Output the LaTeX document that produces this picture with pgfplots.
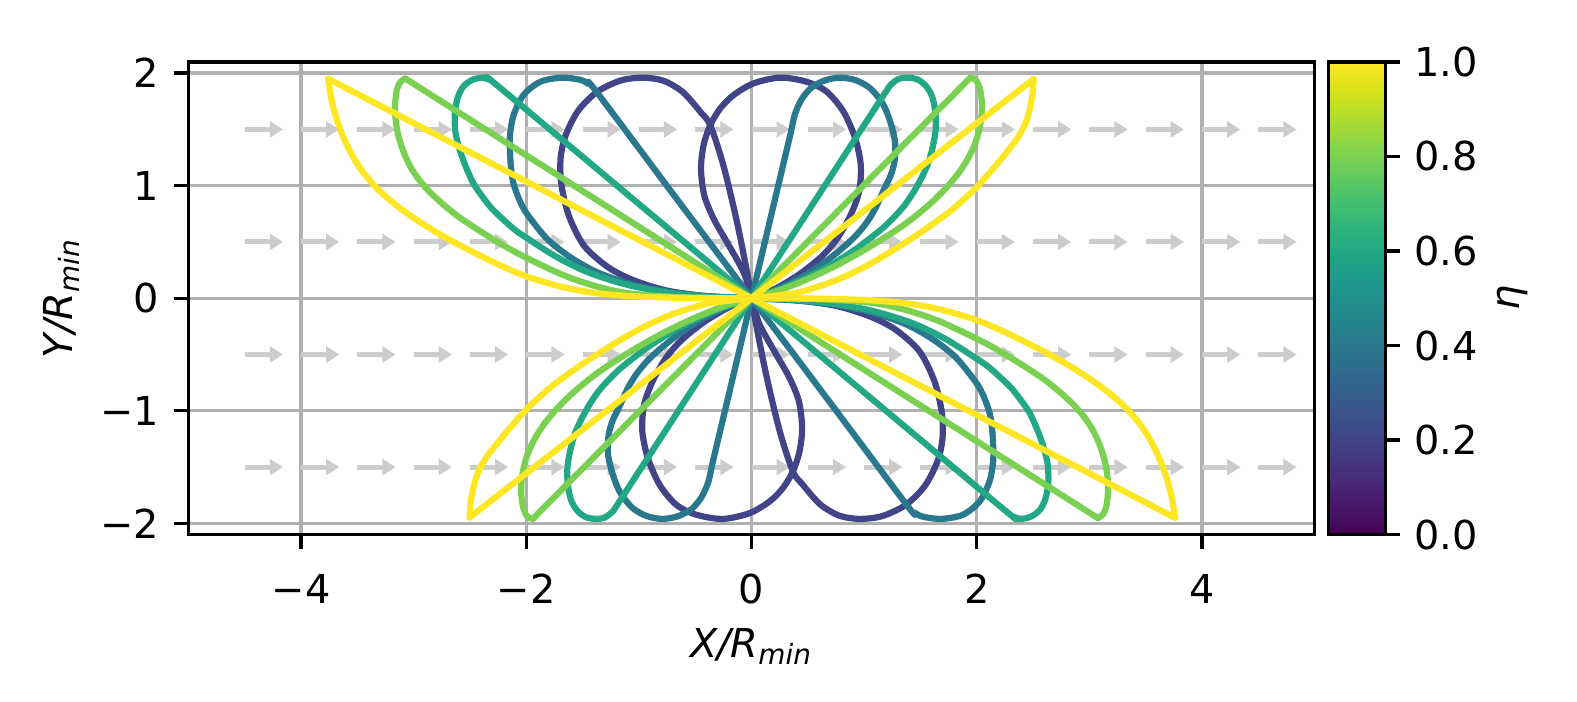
\documentclass[border=0pt]{standalone}
\usepackage{fontspec}
\setmainfont{DejaVu Sans}
\usepackage{pgfplots}
\pgfplotsset{compat=1.18}
\usetikzlibrary{arrows.meta}
\definecolor{cA}{HTML}{414487}
\definecolor{cB}{HTML}{2A788E}
\definecolor{cC}{HTML}{22A884}
\definecolor{cD}{HTML}{7AD151}
\definecolor{cE}{HTML}{FDE725}
\definecolor{gridc}{HTML}{B0B0B0}
\definecolor{arrowc}{HTML}{CCCCCC}
\newcommand{\tfont}{\fontsize{9.6}{11.5}\selectfont}
\begin{document}
\begin{tikzpicture}
\useasboundingbox (-45.4pt,-40.2pt) rectangle (334.5pt,128.8pt);
\begin{axis}[
  at={(0,0)}, anchor=south west,
  scale only axis, width=271.3pt, height=113.9pt,
  xmin=-5, xmax=5, ymin=-2.1, ymax=2.1,
  axis line style={line width=0.8pt},
  grid=major, grid style={gridc, line width=0.8pt},
  xtick={-4,-2,0,2,4}, xticklabels={−4,−2,0,2,4},
  ytick={-2,-1,0,1,2}, yticklabels={−2,−1,0,1,2},
  tick align=outside, xtick pos=bottom, ytick pos=left,
  major tick length=3.5pt,
  every tick/.style={black, line width=0.8pt},
  tick label style={font=\tfont},
  xticklabel style={yshift=-2.5pt},
  colormap/viridis, colorbar, point meta min=0, point meta max=1,
  colorbar shift/.style={xshift=3.3pt},
  colorbar style={
    at={(parent axis.north east)}, anchor=north west,
    scale only axis, width=13.7pt, height=113.9pt,
    axis line style={line width=0.8pt},
    ytick={0,0.2,0.4,0.6,0.8,1}, yticklabels={0.0,0.2,0.4,0.6,0.8,1.0},
    tick align=outside, major tick length=3.5pt, ytick pos=right,
    every tick/.style={black, line width=0.8pt},
    yticklabel style={font=\tfont},
  },
  c1/.style={cA, line width=1.5pt, line join=round, line cap=round},
  c2/.style={cB, line width=1.5pt, line join=round, line cap=round},
  c3/.style={cC, line width=1.5pt, line join=round, line cap=round},
  c4/.style={cD, line width=1.5pt, line join=round, line cap=round},
  c5/.style={cE, line width=1.5pt, line join=round, line cap=round},
]
% wind arrows
\addplot[arrowc, line width=1.2pt, -{Triangle[width=3.8pt,length=3.2pt]},
  quiver={u=\thisrow{u}, v=\thisrow{v}}] table {
x y u v
-4.5 1.5 0.34 0
-4.0 1.5 0.34 0
-3.5 1.5 0.34 0
-3.0 1.5 0.34 0
-2.5 1.5 0.34 0
-2.0 1.5 0.34 0
-1.5 1.5 0.34 0
-1.0 1.5 0.34 0
-0.5 1.5 0.34 0
0.0 1.5 0.34 0
0.5 1.5 0.34 0
1.0 1.5 0.34 0
1.5 1.5 0.34 0
2.0 1.5 0.34 0
2.5 1.5 0.34 0
3.0 1.5 0.34 0
3.5 1.5 0.34 0
4.0 1.5 0.34 0
4.5 1.5 0.34 0
-4.5 0.5 0.34 0
-4.0 0.5 0.34 0
-3.5 0.5 0.34 0
-3.0 0.5 0.34 0
-2.5 0.5 0.34 0
-2.0 0.5 0.34 0
-1.5 0.5 0.34 0
-1.0 0.5 0.34 0
-0.5 0.5 0.34 0
0.0 0.5 0.34 0
0.5 0.5 0.34 0
1.0 0.5 0.34 0
1.5 0.5 0.34 0
2.0 0.5 0.34 0
2.5 0.5 0.34 0
3.0 0.5 0.34 0
3.5 0.5 0.34 0
4.0 0.5 0.34 0
4.5 0.5 0.34 0
-4.5 -0.5 0.34 0
-4.0 -0.5 0.34 0
-3.5 -0.5 0.34 0
-3.0 -0.5 0.34 0
-2.5 -0.5 0.34 0
-2.0 -0.5 0.34 0
-1.5 -0.5 0.34 0
-1.0 -0.5 0.34 0
-0.5 -0.5 0.34 0
0.0 -0.5 0.34 0
0.5 -0.5 0.34 0
1.0 -0.5 0.34 0
1.5 -0.5 0.34 0
2.0 -0.5 0.34 0
2.5 -0.5 0.34 0
3.0 -0.5 0.34 0
3.5 -0.5 0.34 0
4.0 -0.5 0.34 0
4.5 -0.5 0.34 0
-4.5 -1.5 0.34 0
-4.0 -1.5 0.34 0
-3.5 -1.5 0.34 0
-3.0 -1.5 0.34 0
-2.5 -1.5 0.34 0
-2.0 -1.5 0.34 0
-1.5 -1.5 0.34 0
-1.0 -1.5 0.34 0
-0.5 -1.5 0.34 0
0.0 -1.5 0.34 0
0.5 -1.5 0.34 0
1.0 -1.5 0.34 0
1.5 -1.5 0.34 0
2.0 -1.5 0.34 0
2.5 -1.5 0.34 0
3.0 -1.5 0.34 0
3.5 -1.5 0.34 0
4.0 -1.5 0.34 0
4.5 -1.5 0.34 0
};
% eta = 0.2
\addplot[c1, smooth] coordinates {(0,0) (-0.04,0.23) (-0.13,0.68) (-0.25,1.18) (-0.367,1.538) (-0.455,1.656) (-0.55,1.77) (-0.633,1.85) (-0.78,1.932) (-0.96,1.96) (-1.16,1.935) (-1.37,1.835) (-1.54,1.665) (-1.65,1.45) (-1.695,1.25) (-1.69,1.02) (-1.625,0.74) (-1.49,0.47) (-1.28,0.28) (-1.06,0.165) (-0.76,0.07) (-0.40,0.018) (0,0)};
\addplot[c1, smooth] coordinates {(0,0) (0.04,-0.23) (0.13,-0.68) (0.25,-1.18) (0.367,-1.538) (0.455,-1.656) (0.55,-1.77) (0.633,-1.85) (0.78,-1.932) (0.96,-1.96) (1.16,-1.935) (1.37,-1.835) (1.54,-1.665) (1.65,-1.45) (1.695,-1.25) (1.69,-1.02) (1.625,-0.74) (1.49,-0.47) (1.28,-0.28) (1.06,-0.165) (0.76,-0.07) (0.40,-0.018) (0,0)};
\addplot[c1, smooth] coordinates {(0,0) (-0.071,0.232) (-0.219,0.499) (-0.337,0.707) (-0.42,0.914) (-0.449,1.152) (-0.426,1.359) (-0.367,1.538) (-0.278,1.686) (-0.16,1.805) (0.018,1.909) (0.255,1.96) (0.49,1.923) (0.669,1.834) (0.817,1.656) (0.921,1.419) (0.97,1.18) (0.955,0.95) (0.88,0.74) (0.76,0.53) (0.62,0.37) (0.42,0.21) (0.20,0.08) (0,0)};
\addplot[c1, smooth] coordinates {(0,0) (0.071,-0.232) (0.219,-0.499) (0.337,-0.707) (0.42,-0.914) (0.449,-1.152) (0.426,-1.359) (0.367,-1.538) (0.278,-1.686) (0.16,-1.805) (-0.018,-1.909) (-0.255,-1.96) (-0.49,-1.923) (-0.669,-1.834) (-0.817,-1.656) (-0.921,-1.419) (-0.97,-1.18) (-0.955,-0.95) (-0.88,-0.74) (-0.76,-0.53) (-0.62,-0.37) (-0.42,-0.21) (-0.20,-0.08) (0,0)};
% eta = 0.4
\addplot[c2, smooth] coordinates {(0,0) (-0.70,0.93) (-1.388,1.849) (-1.45,1.905) (-1.52,1.94) (-1.684,1.96) (-1.877,1.923) (-2.025,1.805) (-2.113,1.627) (-2.145,1.45) (-2.145,1.30) (-2.135,1.15) (-2.114,1.019) (-2.06,0.87) (-1.995,0.751) (-1.817,0.529) (-1.61,0.365) (-1.373,0.232) (-1.077,0.128) (-0.75,0.06) (-0.40,0.02) (0,0)};
\addplot[c2, smooth] coordinates {(0,0) (0.70,-0.93) (1.388,-1.849) (1.45,-1.905) (1.52,-1.94) (1.684,-1.96) (1.877,-1.923) (2.025,-1.805) (2.113,-1.627) (2.145,-1.45) (2.145,-1.30) (2.135,-1.15) (2.114,-1.019) (2.06,-0.87) (1.995,-0.751) (1.817,-0.529) (1.61,-0.365) (1.373,-0.232) (1.077,-0.128) (0.75,-0.06) (0.40,-0.02) (0,0)};
\addplot[c2, smooth] coordinates {(0,0) (0.17,0.72) (0.343,1.449) (0.38,1.62) (0.44,1.76) (0.53,1.87) (0.65,1.935) (0.788,1.96) (0.93,1.935) (1.06,1.86) (1.172,1.716) (1.24,1.54) (1.275,1.38) (1.27,1.22) (1.235,1.09) (1.172,0.959) (1.10,0.80) (1.02,0.67) (0.92,0.55) (0.80,0.44) (0.66,0.33) (0.45,0.19) (0.20,0.07) (0,0)};
\addplot[c2, smooth] coordinates {(0,0) (-0.17,-0.72) (-0.343,-1.449) (-0.38,-1.62) (-0.44,-1.76) (-0.53,-1.87) (-0.65,-1.935) (-0.788,-1.96) (-0.93,-1.935) (-1.06,-1.86) (-1.172,-1.716) (-1.24,-1.54) (-1.275,-1.38) (-1.27,-1.22) (-1.235,-1.09) (-1.172,-0.959) (-1.10,-0.80) (-1.02,-0.67) (-0.92,-0.55) (-0.80,-0.44) (-0.66,-0.33) (-0.45,-0.19) (-0.20,-0.07) (0,0)};
% eta = 0.6
\addplot[c3, smooth] coordinates {(0,0) (-1.13,0.946) (-2.262,1.894) (-2.33,1.94) (-2.39,1.96) (-2.48,1.94) (-2.56,1.88) (-2.61,1.78) (-2.635,1.64) (-2.63,1.48) (-2.60,1.35) (-2.55,1.20) (-2.469,1.019) (-2.38,0.89) (-2.291,0.781) (-2.114,0.618) (-2.0,0.538) (-1.728,0.365) (-1.433,0.223) (-1.077,0.113) (-0.70,0.045) (-0.35,0.012) (0,0)};
\addplot[c3, smooth] coordinates {(0,0) (1.13,-0.946) (2.262,-1.894) (2.33,-1.94) (2.39,-1.96) (2.48,-1.94) (2.56,-1.88) (2.61,-1.78) (2.635,-1.64) (2.63,-1.48) (2.60,-1.35) (2.55,-1.20) (2.469,-1.019) (2.38,-0.89) (2.291,-0.781) (2.114,-0.618) (2.0,-0.538) (1.728,-0.365) (1.433,-0.223) (1.077,-0.113) (0.70,-0.045) (0.35,-0.012) (0,0)};
\addplot[c3, smooth] coordinates {(0,0) (0.585,0.90) (1.17,1.80) (1.24,1.90) (1.31,1.95) (1.38,1.96) (1.47,1.945) (1.545,1.89) (1.60,1.80) (1.63,1.67) (1.635,1.50) (1.602,1.315) (1.56,1.18) (1.498,1.048) (1.43,0.93) (1.35,0.815) (1.25,0.705) (1.143,0.605) (0.90,0.42) (0.62,0.25) (0.30,0.10) (0,0)};
\addplot[c3, smooth] coordinates {(0,0) (-0.585,-0.90) (-1.17,-1.80) (-1.24,-1.90) (-1.31,-1.95) (-1.38,-1.96) (-1.47,-1.945) (-1.545,-1.89) (-1.60,-1.80) (-1.63,-1.67) (-1.635,-1.50) (-1.602,-1.315) (-1.56,-1.18) (-1.498,-1.048) (-1.43,-0.93) (-1.35,-0.815) (-1.25,-0.705) (-1.143,-0.605) (-0.90,-0.42) (-0.62,-0.25) (-0.30,-0.10) (0,0)};
% eta = 0.8
\addplot[c4] coordinates {(0,0) (-3.076,1.953)};
\addplot[c4, smooth] coordinates {(-3.076,1.953) (-3.12,1.92) (-3.15,1.85) (-3.165,1.72) (-3.16,1.58) (-3.135,1.44) (-3.09,1.30) (-3.03,1.17) (-2.95,1.05) (-2.853,0.94) (-2.74,0.835) (-2.61,0.73) (-2.47,0.635) (-2.32,0.54) (-2.16,0.445) (-2.0,0.36) (-1.67,0.205) (-1.373,0.105) (-1.077,0.042) (-0.6,0.008) (0,0)};
\addplot[c4] coordinates {(0,0) (3.076,-1.953)};
\addplot[c4, smooth] coordinates {(3.076,-1.953) (3.12,-1.92) (3.15,-1.85) (3.165,-1.72) (3.16,-1.58) (3.135,-1.44) (3.09,-1.30) (3.03,-1.17) (2.95,-1.05) (2.853,-0.94) (2.74,-0.835) (2.61,-0.73) (2.47,-0.635) (2.32,-0.54) (2.16,-0.445) (2.0,-0.36) (1.67,-0.205) (1.373,-0.105) (1.077,-0.042) (0.6,-0.008) (0,0)};
\addplot[c4] coordinates {(0,0) (1.942,1.959)};
\addplot[c4, smooth] coordinates {(1.942,1.959) (1.99,1.94) (2.025,1.87) (2.045,1.74) (2.04,1.60) (2.015,1.47) (1.975,1.35) (1.915,1.23) (1.84,1.115) (1.75,1.005) (1.65,0.90) (1.54,0.80) (1.35,0.65) (1.054,0.46) (0.75,0.29) (0.45,0.15) (0.20,0.055) (0,0)};
\addplot[c4] coordinates {(0,0) (-1.942,-1.959)};
\addplot[c4, smooth] coordinates {(-1.942,-1.959) (-1.99,-1.94) (-2.025,-1.87) (-2.045,-1.74) (-2.04,-1.60) (-2.015,-1.47) (-1.975,-1.35) (-1.915,-1.23) (-1.84,-1.115) (-1.75,-1.005) (-1.65,-0.90) (-1.54,-0.80) (-1.35,-0.65) (-1.054,-0.46) (-0.75,-0.29) (-0.45,-0.15) (-0.20,-0.055) (0,0)};
% eta = 1.0
\addplot[c5] coordinates {(0,0) (-3.76,1.95)};
\addplot[c5, smooth] coordinates {(-3.76,1.95) (-3.745,1.85) (-3.72,1.72) (-3.68,1.58) (-3.62,1.42) (-3.54,1.26) (-3.45,1.12) (-3.32,0.97) (-3.16,0.83) (-2.98,0.70) (-2.78,0.575) (-2.558,0.454) (-2.261,0.306) (-1.995,0.193) (-1.67,0.098) (-1.373,0.045) (-1.0,0.015) (-0.5,0.002) (0,0)};
\addplot[c5] coordinates {(0,0) (3.76,-1.95)};
\addplot[c5, smooth] coordinates {(3.76,-1.95) (3.745,-1.85) (3.72,-1.72) (3.68,-1.58) (3.62,-1.42) (3.54,-1.26) (3.45,-1.12) (3.32,-0.97) (3.16,-0.83) (2.98,-0.70) (2.78,-0.575) (2.558,-0.454) (2.261,-0.306) (1.995,-0.193) (1.67,-0.098) (1.373,-0.045) (1.0,-0.015) (0.5,-0.002) (0,0)};
\addplot[c5] coordinates {(0,0) (2.504,1.947)};
\addplot[c5, smooth] coordinates {(2.504,1.947) (2.495,1.82) (2.47,1.68) (2.43,1.55) (2.36,1.42) (2.268,1.30) (2.14,1.145) (2.002,0.99) (1.87,0.865) (1.735,0.751) (1.44,0.543) (1.054,0.306) (0.75,0.16) (0.40,0.05) (0,0)};
\addplot[c5] coordinates {(0,0) (-2.504,-1.947)};
\addplot[c5, smooth] coordinates {(-2.504,-1.947) (-2.495,-1.82) (-2.47,-1.68) (-2.43,-1.55) (-2.36,-1.42) (-2.268,-1.30) (-2.14,-1.145) (-2.002,-0.99) (-1.87,-0.865) (-1.735,-0.751) (-1.44,-0.543) (-1.054,-0.306) (-0.75,-0.16) (-0.40,-0.05) (0,0)};
\end{axis}
% labels (axis box: (0,0) to (271.3pt,113.9pt))
\node[anchor=north, inner sep=0pt, font=\tfont] at (135.65pt,-22.5pt) {\itshape X/R\textsubscript{min}};
\node[rotate=90, anchor=center, inner sep=0pt, font=\tfont] at (-30.5pt,56.95pt) {\itshape Y/R\textsubscript{min}};
\node[rotate=90, anchor=center, inner sep=0pt, font=\tfont] at (318.9pt,56.95pt) {\itshape η};
\end{tikzpicture}
\end{document}
